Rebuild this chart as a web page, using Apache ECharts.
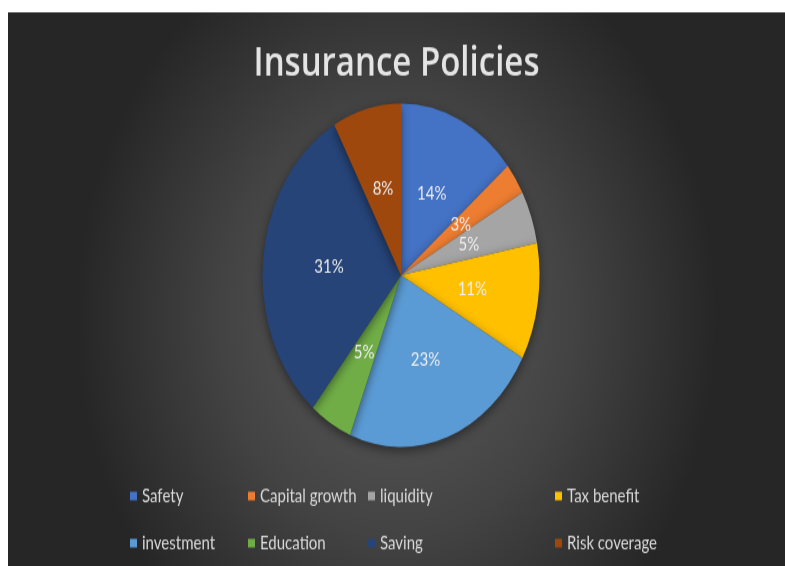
<!DOCTYPE html>
<html>
<head>
<meta charset="utf-8">
<title>Insurance Policies</title>
<script src="https://cdn.jsdelivr.net/npm/echarts@6/dist/echarts.min.js"></script>
<style>
  html, body { margin: 0; padding: 0; background: #ffffff; width: 785px; height: 566px; overflow: hidden; }
  /* The whole figure is drawn at a flatter size and stretched vertically */
  #wrap { position: absolute; left: 0; top: 0; width: 785px; height: 456.5px;
          transform: scaleY(1.24); transform-origin: 0 0; }
  #chart { position: absolute; left: 8px; top: 9.7px; width: 777px; height: 447px; }
</style>
</head>
<body>
<div id="wrap"><div id="chart"></div></div>
<script>
// Reasons for buying insurance, share of respondents (%)
const categories = ['Safety', 'Capital growth', 'liquidity', 'Tax benefit',
                    'investment', 'Education', 'Saving', 'Risk coverage'];
const shares = [14, 3, 5, 11, 23, 5, 31, 8];
const sliceColors = ['#4472C4', '#ED7D31', '#A5A5A5', '#FFC000',
                     '#5B9BD5', '#70AD47', '#264478', '#9E480E'];

// Legend is laid out in four columns of two entries each
const legendColumns = [
  ['Safety', 'investment'],
  ['Capital growth', 'Education'],
  ['liquidity', 'Saving'],
  ['Tax benefit', 'Risk coverage']
];
const legendLeft = [122, 240, 360, 547];

const chart = echarts.init(document.getElementById('chart'), null, { renderer: 'canvas' });

const pieData = categories.map((name, i) => ({
  name: name,
  value: shares[i],
  itemStyle: { color: sliceColors[i] }
}));

const legends = legendColumns.map((names, c) => ({
  orient: 'vertical',
  left: legendLeft[c],
  top: 382.5,
  padding: 0,
  itemGap: 23,
  itemWidth: 7,
  itemHeight: 7,
  icon: 'rect',
  selectedMode: false,
  data: names,
  textStyle: { color: '#d9d9d9', fontFamily: 'Lato', fontSize: 15, lineHeight: 14 }
}));

chart.setOption({
  backgroundColor: {
    type: 'radial', x: 0.5, y: 0.55, r: 0.72,
    colorStops: [
      { offset: 0, color: '#5c5c5c' },
      { offset: 0.55, color: '#434343' },
      { offset: 1, color: '#262626' }
    ]
  },
  animation: false,
  title: {
    text: 'Insurance Policies',
    left: 'center',
    top: 20,
    padding: [5, 0, 5, 7],
    textStyle: { color: '#e4e4e4', fontFamily: 'Open Sans', fontWeight: 600, fontSize: 33 }
  },
  legend: legends,
  series: [{
    type: 'pie',
    center: [393, 212],
    radius: 138.5,
    startAngle: 90,
    clockwise: true,
    avoidLabelOverlap: false,
    itemStyle: {
      shadowBlur: 8, shadowColor: 'rgba(0,0,0,0.45)', shadowOffsetY: 3
    },
    label: {
      show: true,
      position: 'inside',
      formatter: '{c}%',
      color: '#eeeeee',
      fontFamily: 'Lato',
      fontSize: 15
    },
    labelLine: { show: false },
    emphasis: { disabled: true },
    data: pieData
  }]
});
</script>
</body>
</html>
